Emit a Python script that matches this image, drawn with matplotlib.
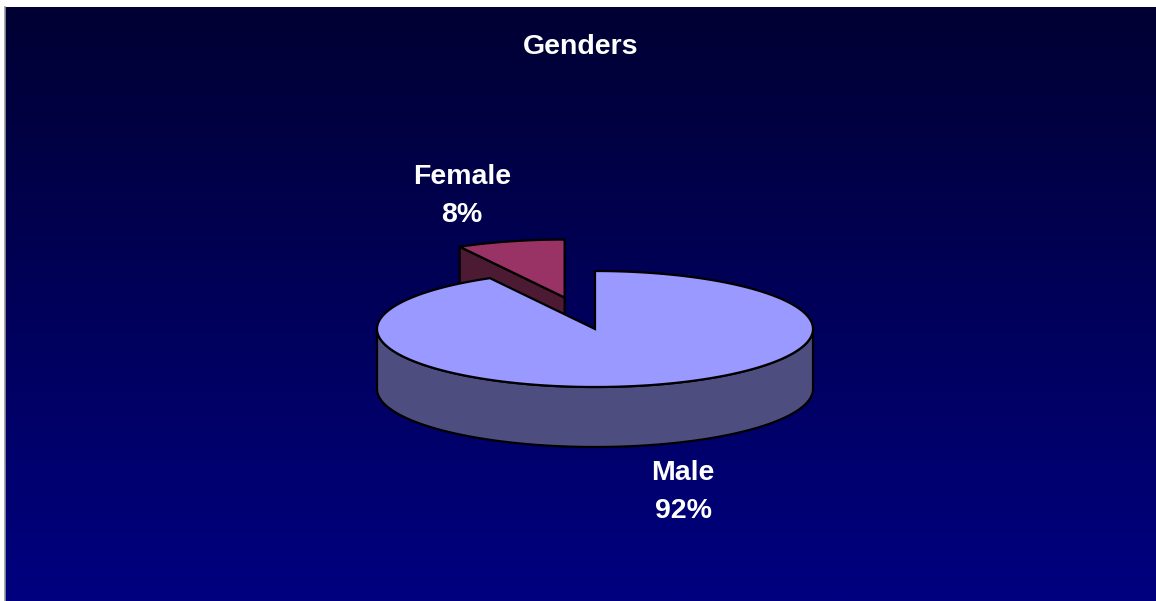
import numpy as np
import matplotlib.pyplot as plt
from matplotlib.patches import Polygon

# data
categories = ["Male", "Female"]
shares = [92, 8]
explode = [0.0, 0.56]
top_colors = ["#9999FF", "#993366"]
side_colors = ["#4D4D80", "#4D1A33"]
title = "Genders"

plt.rcParams["font.family"] = ["Liberation Sans", "DejaVu Sans"]

W, H = 1156, 601
fig = plt.figure(figsize=(W / 100, H / 100), dpi=100)
ax = fig.add_axes([0, 0, 1, 1])
ax.set_xlim(0, W)
ax.set_ylim(H, 0)
ax.axis("off")

# background: vertical gradient, white margin above / left
grad = np.linspace(0, 1, 256).reshape(-1, 1)
bg = np.zeros((256, 1, 3))
bg[..., 2] = (51 + (128 - 51) * grad) / 255.0
ax.imshow(bg, extent=[5, W, H, 7], aspect="auto", zorder=0)
ax.plot([4.5, 4.5], [7, H], color="#999999", lw=1.2, zorder=1)

# pie geometry (pixel space)
cx, cy = 595, 329
a, b = 218, 58
depth = 60


def pt(t, dx=0.0, dy=0.0, down=0.0):
    return (cx + dx + a * np.cos(t), cy + dy - b * np.sin(t) + down)


def arc(t0, t1, dx=0.0, dy=0.0, down=0.0, n=200):
    ts = np.linspace(t0, t1, n)
    return [pt(t, dx, dy, down) for t in ts]


total = float(sum(shares))
start = np.deg2rad(90)
# slices run clockwise from 12 o'clock
spans = []
cur = start
for s in shares:
    t1 = cur - 2 * np.pi * s / total
    spans.append((t1, cur))
    cur = t1

edge = dict(edgecolor="black", linewidth=1.6, joinstyle="miter")

# female (index 1) sits at the back, draw first
f_lo, f_hi = spans[1]
f_lo, f_hi = f_lo + 2 * np.pi, f_hi + 2 * np.pi  # 90 -> 118.8 deg
mid = 0.5 * (f_lo + f_hi)
ex = explode[1]
odx, ody = a * ex * np.cos(mid), -b * ex * np.sin(mid)
apex = (cx + odx, cy + ody)
rim = pt(f_hi, odx, ody)
# radial side wall along the 118.8 deg edge (faces the viewer)
wall = [apex, rim, (rim[0], rim[1] + depth), (apex[0], apex[1] + depth)]
ax.add_patch(Polygon(wall, closed=True, facecolor=side_colors[1], zorder=2, **edge))
top_f = [apex] + arc(f_lo, f_hi, odx, ody)
ax.add_patch(Polygon(top_f, closed=True, facecolor=top_colors[1], zorder=3, **edge))

# male (index 0)
m_lo, m_hi = spans[0]
m_lo += 2 * np.pi  # 118.8 deg
m_hi += 2 * np.pi  # 450 deg
front = arc(np.pi, 2 * np.pi) + arc(2 * np.pi, np.pi, down=depth)
ax.add_patch(Polygon(front, closed=True, facecolor=side_colors[0], zorder=4, **edge))
top_m = [(cx, cy)] + arc(m_hi, m_lo)
ax.add_patch(Polygon(top_m, closed=True, facecolor=top_colors[0], zorder=5, **edge))

# labels
label_pos = {"Female": (462, 196), "Male": (683, 492)}
for name, s in zip(categories, shares):
    x, y = label_pos[name]
    ax.text(x, y, f"{name}\n{s}%", color="white", fontsize=20.5,
            fontweight="bold", ha="center", va="center", linespacing=1.62,
            zorder=6)

ax.text(581, 47, title, color="white", fontsize=20.5, fontweight="bold",
        ha="center", va="center", zorder=6)

fig.savefig("out.png", dpi=100, facecolor="white")
